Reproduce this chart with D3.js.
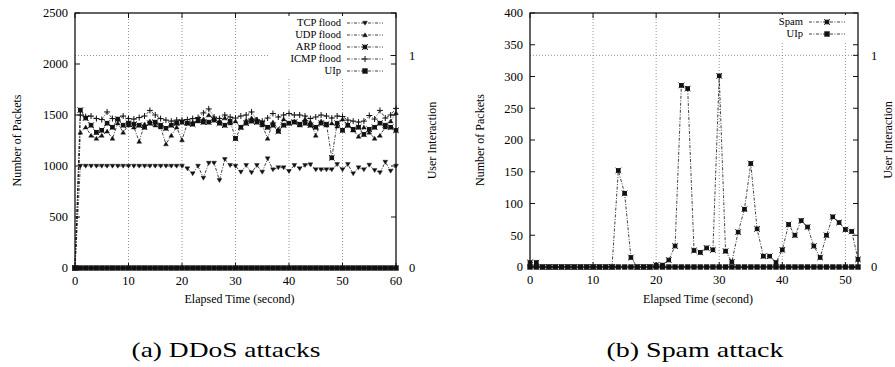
<!DOCTYPE html>
<html>
<head>
<meta charset="utf-8">
<script src="https://cdn.jsdelivr.net/npm/d3@7"></script>
<style>
  body { margin: 0; background: #fff; }
</style>
</head>
<body>
<svg id="chart" width="895" height="367" font-family="'Liberation Serif', 'DejaVu Serif', serif"></svg>
<script>
// ---- data (packets per second) ----
var tcpFlood = [0,1000,1000,1000,1000,1000,1000,1000,1000,1000,1000,1000,1000,1000,1000,1000,1000,1000,1000,1000,1000,
  974,925,1000,882,1029,1029,859,1065,1007,1000,941,1007,935,1007,941,1072,964,984,984,948,
  1007,974,1007,1013,964,964,964,964,1016,964,1016,925,984,964,1010,957,935,1039,951,1000];
var udpFlood = [0,1330,1380,1300,1270,1300,1340,1270,1420,1330,1400,1380,1240,1410,1440,1400,1380,1215,1300,1380,1255,
  1420,1430,1440,1460,1500,1460,1440,1470,1420,1440,1380,1450,1470,1460,1400,1270,1430,1360,1460,1420,
  1440,1400,1460,1430,1300,1440,1400,1420,1390,1460,1400,1350,1290,1380,1330,1270,1300,1380,1440,1520];
var arpFlood = [0,1548,1470,1400,1330,1350,1420,1380,1460,1400,1420,1410,1400,1380,1420,1430,1400,1370,1400,1420,1430,
  1420,1410,1450,1430,1430,1450,1420,1400,1440,1270,1380,1420,1440,1430,1420,1380,1400,1340,1400,1420,
  1430,1410,1420,1400,1380,1420,1410,1080,1420,1350,1400,1360,1380,1310,1360,1380,1420,1400,1380,1350];
var icmpFlood = [0,1500,1484,1490,1465,1455,1530,1465,1450,1490,1465,1460,1475,1490,1545,1500,1465,1450,1440,1450,1450,
  1455,1465,1475,1520,1560,1480,1465,1500,1480,1470,1490,1500,1530,1450,1440,1470,1515,1480,1500,1515,
  1500,1500,1490,1465,1480,1500,1490,1470,1490,1485,1450,1440,1430,1440,1495,1460,1545,1470,1500,1565];
var uipDDoS = [0,0,0,0,0,0,0,0,0,0,0,0,0,0,0,0,0,0,0,0,0,0,0,0,0,0,0,0,0,0,0,
  0,0,0,0,0,0,0,0,0,0,0,0,0,0,0,0,0,0,0,0,0,0,0,0,0,0,0,0,0,0];

var spam = [7,7,0,0,0,0,0,0,0,0,0,0,0,0,152,116,15,0,0,0,3,3,11,33,286,281,26,23,30,27,301,
  25,8,55,91,163,60,17,17,7,27,67,50,73,63,33,15,50,79,70,59,56,12];
var uipSpam = [0,0,0,0,0,0,0,0,0,0,0,0,0,0,0,0,0,0,0,0,0,0,0,0,0,0,0,0,0,0,0,
  0,0,0,0,0,0,0,0,0,0,0,0,0,0,0,0,0,0,0,0,0,0];

var ddosYTicks = [0,500,1000,1500,2000,2500];
var spamYTicks = [0,50,100,150,200,250,300,350,400];
var ddosXTicks = [0,10,20,30,40,50,60];
var spamXTicks = [0,10,20,30,40,50];
var y2Ticks = [0,1];

var FONT = "'Liberation Serif', 'DejaVu Serif', serif";
var svg = d3.select("#chart");
var INK = "#111";

function symbolPath(type) {
  if (type == "tdown") return "M-2.4,-1.8L2.4,-1.8L0,2.2Z";
  if (type == "tup") return "M-2.4,1.8L2.4,1.8L0,-2.2Z";
  if (type == "plus") return "M-3,0H3M0,-3V3";
  if (type == "star") return "M-1.8,-1.8H1.8V1.8H-1.8Z M-2.8,-2.8L2.8,2.8M2.8,-2.8L-2.8,2.8";
  return "M-2.5,-2.5H2.5V2.5H-2.5Z"; // filled box
}

function marker(g, type, x, y) {
  g.append("path")
    .attr("d", symbolPath(type))
    .attr("transform", "translate(" + x + "," + y + ")")
    .attr("fill", type == "plus" ? "none" : INK)
    .attr("stroke", INK)
    .attr("stroke-width", type == "plus" || type == "star" ? 1 : 0.4);
}

function label(g, size) {
  return g.append("text").attr("font-family", FONT).attr("font-size", size).attr("fill", "#000");
}

function drawPanel(p) {
  var g = svg.append("g");
  var xs = d3.scaleLinear().domain([0, p.xMax]).range([p.x0, p.x1]);
  var ys = d3.scaleLinear().domain([0, p.yMax]).range([p.y1, p.y0]);
  var y2s = d3.scaleLinear().domain([0, 1.2]).range([p.y1, p.y0]);

  // grid
  p.xTicks.filter(function(t){ return t > 0 && t < p.xMax; }).forEach(function(t) {
    g.append("line").attr("x1", xs(t)).attr("x2", xs(t)).attr("y1", p.y0).attr("y2", p.y1)
      .attr("stroke", "#777").attr("stroke-width", 0.8).attr("stroke-dasharray", "1,2");
  });
  g.append("line").attr("x1", p.x0).attr("x2", p.x1).attr("y1", y2s(1)).attr("y2", y2s(1))
    .attr("stroke", "#777").attr("stroke-width", 0.8).attr("stroke-dasharray", "1,2");

  // ticks
  p.yTicks.forEach(function(t) {
    g.append("line").attr("x1", p.x0).attr("x2", p.x0 + 5).attr("y1", ys(t)).attr("y2", ys(t)).attr("stroke", INK);
    g.append("line").attr("x1", p.x1).attr("x2", p.x1 - 5).attr("y1", ys(t)).attr("y2", ys(t)).attr("stroke", INK);
    label(g, 12.5).attr("x", p.x0 - 7).attr("y", ys(t)).attr("dy", "0.35em")
      .attr("text-anchor", "end").text(t);
  });
  p.xTicks.forEach(function(t) {
    g.append("line").attr("x1", xs(t)).attr("x2", xs(t)).attr("y1", p.y1).attr("y2", p.y1 - 5).attr("stroke", INK);
    g.append("line").attr("x1", xs(t)).attr("x2", xs(t)).attr("y1", p.y0).attr("y2", p.y0 + 5).attr("stroke", INK);
    label(g, 12.5).attr("x", xs(t)).attr("y", p.y1 + 17)
      .attr("text-anchor", "middle").text(t);
  });
  y2Ticks.forEach(function(t) {
    g.append("line").attr("x1", p.x1).attr("x2", p.x1 - 5).attr("y1", y2s(t)).attr("y2", y2s(t)).attr("stroke", INK);
    label(g, 12.5).attr("x", p.x1 + 13).attr("y", y2s(t)).attr("dy", "0.35em").text(t);
  });

  // series
  var plot = g.append("g");
  p.series.forEach(function(s) {
    var sc = s.y2 ? y2s : ys;
    var line = d3.line().x(function(d, i){ return xs(i); }).y(function(d){ return sc(d); });
    plot.append("path").attr("d", line(s.values)).attr("fill", "none")
      .attr("stroke", INK).attr("stroke-width", 0.8).attr("stroke-dasharray", "3,1.5,1,1.5");
    s.values.forEach(function(v, i) { marker(plot, s.sym, xs(i), sc(v)); });
  });

  // legend (opaque key)
  var lg = g.append("g");
  lg.append("rect").attr("x", p.legX - 72).attr("y", p.legY - 7)
    .attr("width", 120).attr("height", p.series.length * 12 + 2).attr("fill", "#fff");
  p.series.forEach(function(s, i) {
    var y = p.legY + i * 12;
    label(lg, 10.6).attr("x", p.legX).attr("y", y).attr("dy", "0.33em")
      .attr("text-anchor", "end").text(s.name);
    lg.append("line").attr("x1", p.legX + 6).attr("x2", p.legX + 42).attr("y1", y).attr("y2", y)
      .attr("stroke", INK).attr("stroke-width", 0.8).attr("stroke-dasharray", "3,1.5,1,1.5");
    marker(lg, s.sym, p.legX + 24, y);
  });

  // border
  g.append("rect").attr("x", p.x0).attr("y", p.y0).attr("width", p.x1 - p.x0).attr("height", p.y1 - p.y0)
    .attr("fill", "none").attr("stroke", INK).attr("stroke-width", 1.3);

  // axis titles
  var mid = (p.y0 + p.y1) / 2;
  label(g, 12).attr("transform", "translate(" + p.yLabelX + "," + mid + ") rotate(-90)")
    .attr("text-anchor", "middle").attr("dy", "0.35em").text("Number of Packets");
  label(g, 12).attr("transform", "translate(" + p.y2LabelX + "," + mid + ") rotate(-90)")
    .attr("text-anchor", "middle").attr("dy", "0.35em").text("User Interaction");
  label(g, 12).attr("x", (p.x0 + p.x1) / 2 + 4).attr("y", 303)
    .attr("text-anchor", "middle").text("Elapsed Time (second)");
  label(g, 21).attr("x", p.capX).attr("y", 357).attr("text-anchor", "middle")
    .attr("textLength", p.capW).attr("lengthAdjust", "spacingAndGlyphs")
    .text(p.caption);
}

drawPanel({
  x0: 75, x1: 396, y0: 13, y1: 268, xMax: 60, yMax: 2500,
  xTicks: ddosXTicks, yTicks: ddosYTicks,
  legX: 341, legY: 23, yLabelX: 17, y2LabelX: 432,
  capX: 226, capW: 189, caption: "(a) DDoS attacks",
  series: [
    { name: "TCP flood", values: tcpFlood, sym: "tdown" },
    { name: "UDP flood", values: udpFlood, sym: "tup" },
    { name: "ARP flood", values: arpFlood, sym: "star" },
    { name: "ICMP flood", values: icmpFlood, sym: "plus" },
    { name: "UIp", values: uipDDoS, sym: "box", y2: true }
  ]
});

drawPanel({
  x0: 530, x1: 858, y0: 13, y1: 267, xMax: 52, yMax: 400,
  xTicks: spamXTicks, yTicks: spamYTicks,
  legX: 803, legY: 22, yLabelX: 480, y2LabelX: 888,
  capX: 695, capW: 177, caption: "(b) Spam attack",
  series: [
    { name: "Spam", values: spam, sym: "star" },
    { name: "UIp", values: uipSpam, sym: "box", y2: true }
  ]
});
</script>
</body>
</html>
